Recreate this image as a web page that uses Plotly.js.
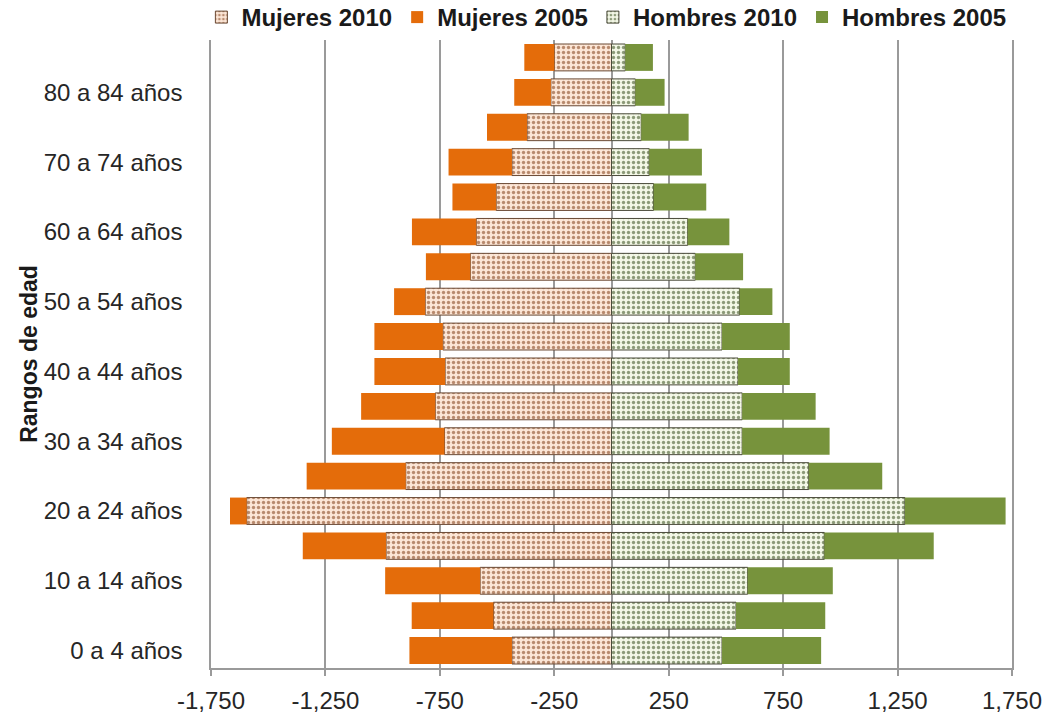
<!DOCTYPE html>
<html>
<head>
<meta charset="utf-8">
<script src="https://cdn.plot.ly/plotly-3.0.1.min.js"></script>
<style>
  html, body { margin: 0; padding: 0; background: #ffffff; }
  #chart { width: 1045px; height: 721px; }
</style>
</head>
<body>
<div id="chart"></div>
<script>
// Age groups, bottom to top
const categories = [
  "0 a 4 años", "5 a 9 años", "10 a 14 años", "15 a 19 años",
  "20 a 24 años", "25 a 29 años", "30 a 34 años", "35 a 39 años",
  "40 a 44 años", "45 a 49 años", "50 a 54 años", "55 a 59 años",
  "60 a 64 años", "65 a 69 años", "70 a 74 años", "75 a 79 años",
  "80 a 84 años", "85 años y más"
];

// Segment lengths (stacked), women plotted to the left (negative)
const mujeres2010 = [435, 516, 574, 985, 1594, 899, 730, 770, 727, 737, 814, 617, 591, 504, 435, 369, 265, 250];
const mujeres2005 = [448, 357, 415, 364, 73, 433, 492, 324, 309, 299, 136, 194, 281, 191, 277, 175, 160, 131];
const hombres2010 = [483, 544, 595, 930, 1282, 862, 571, 571, 553, 483, 560, 366, 333, 184, 165, 130, 104, 60];
const hombres2005 = [433, 390, 372, 478, 440, 321, 382, 321, 226, 296, 143, 209, 182, 230, 230, 207, 128, 121];

const xTickVals = [-1750, -1250, -750, -250, 250, 750, 1250, 1750];
const xTickText = ["-1,750", "-1,250", "-750", "-250", "250", "750", "1,250", "1,750"];
const yTickVals = categories.filter((c, i) => i % 2 === 0);

const FONT = "Liberation Sans, Arial, sans-serif";

const traces = [
  {
    type: "bar", orientation: "h", name: "Mujeres 2010",
    y: categories, x: mujeres2010.map(v => -v),
    customdata: mujeres2010, hovertemplate: "%{y}: %{customdata}<extra>Mujeres 2010</extra>",
    marker: {
      color: "#fce6d6",
      pattern: { shape: ".", fgcolor: "#b88a6e", bgcolor: "#fce6d6", size: 5, solidity: 0.35 },
      line: { color: "#6b4a35", width: 1 }
    }
  },
  {
    type: "bar", orientation: "h", name: "Mujeres 2005",
    y: categories, x: mujeres2005.map(v => -v),
    customdata: mujeres2005, hovertemplate: "%{y}: %{customdata}<extra>Mujeres 2005</extra>",
    marker: { color: "#e46c0a", line: { width: 0 } }
  },
  {
    type: "bar", orientation: "h", name: "Hombres 2010",
    y: categories, x: hombres2010,
    marker: {
      color: "#f3f7e6",
      pattern: { shape: ".", fgcolor: "#8c9a78", bgcolor: "#f3f7e6", size: 5, solidity: 0.35 },
      line: { color: "#4a4a3a", width: 1 }
    }
  },
  {
    type: "bar", orientation: "h", name: "Hombres 2005",
    y: categories, x: hombres2005,
    marker: { color: "#77933c", line: { width: 0 } }
  }
];

const layout = {
  width: 1045, height: 721,
  paper_bgcolor: "#ffffff", plot_bgcolor: "#ffffff",
  margin: { l: 211, r: 33, t: 40, b: 53, autoexpand: false },
  barmode: "relative",
  bargap: 0.23,
  font: { family: FONT, size: 24, color: "#262626" },
  showlegend: true,
  legend: {
    orientation: "h", x: -0.012, xanchor: "left", y: 1.0, yanchor: "bottom",
    font: { family: FONT, size: 24, color: "#1a1a1a", weight: "bold" },
    itemwidth: 30, tracegroupgap: 0, bgcolor: "rgba(0,0,0,0)"
  },
  xaxis: {
    range: [-1750, 1750],
    tickvals: xTickVals, ticktext: xTickText,
    showgrid: true, gridcolor: "#9a9a9a", gridwidth: 1.5,
    showline: true, linecolor: "#9a9a9a", linewidth: 1.5,
    ticks: "outside", ticklen: 6, tickcolor: "#9a9a9a", tickwidth: 1.5,
    ticklabelstandoff: 4,
    zeroline: true, zerolinecolor: "#9a9a9a", zerolinewidth: 1.5,
    tickfont: { family: FONT, size: 24, color: "#262626" },
    fixedrange: true
  },
  yaxis: {
    type: "category",
    range: [-0.5, 17.5],
    tickvals: yTickVals,
    showgrid: false, zeroline: false,
    showline: true, mirror: true, linecolor: "#9a9a9a", linewidth: 1.5,
    ticks: "", ticklabelstandoff: 22,
    tickfont: { family: FONT, size: 24, color: "#262626" },
    title: { text: "Rangos de edad", font: { family: FONT, size: 23, color: "#1a1a1a", weight: "bold" } },
    fixedrange: true
  }
};

Plotly.newPlot("chart", traces, layout, { displayModeBar: false, staticPlot: false });
</script>
</body>
</html>
